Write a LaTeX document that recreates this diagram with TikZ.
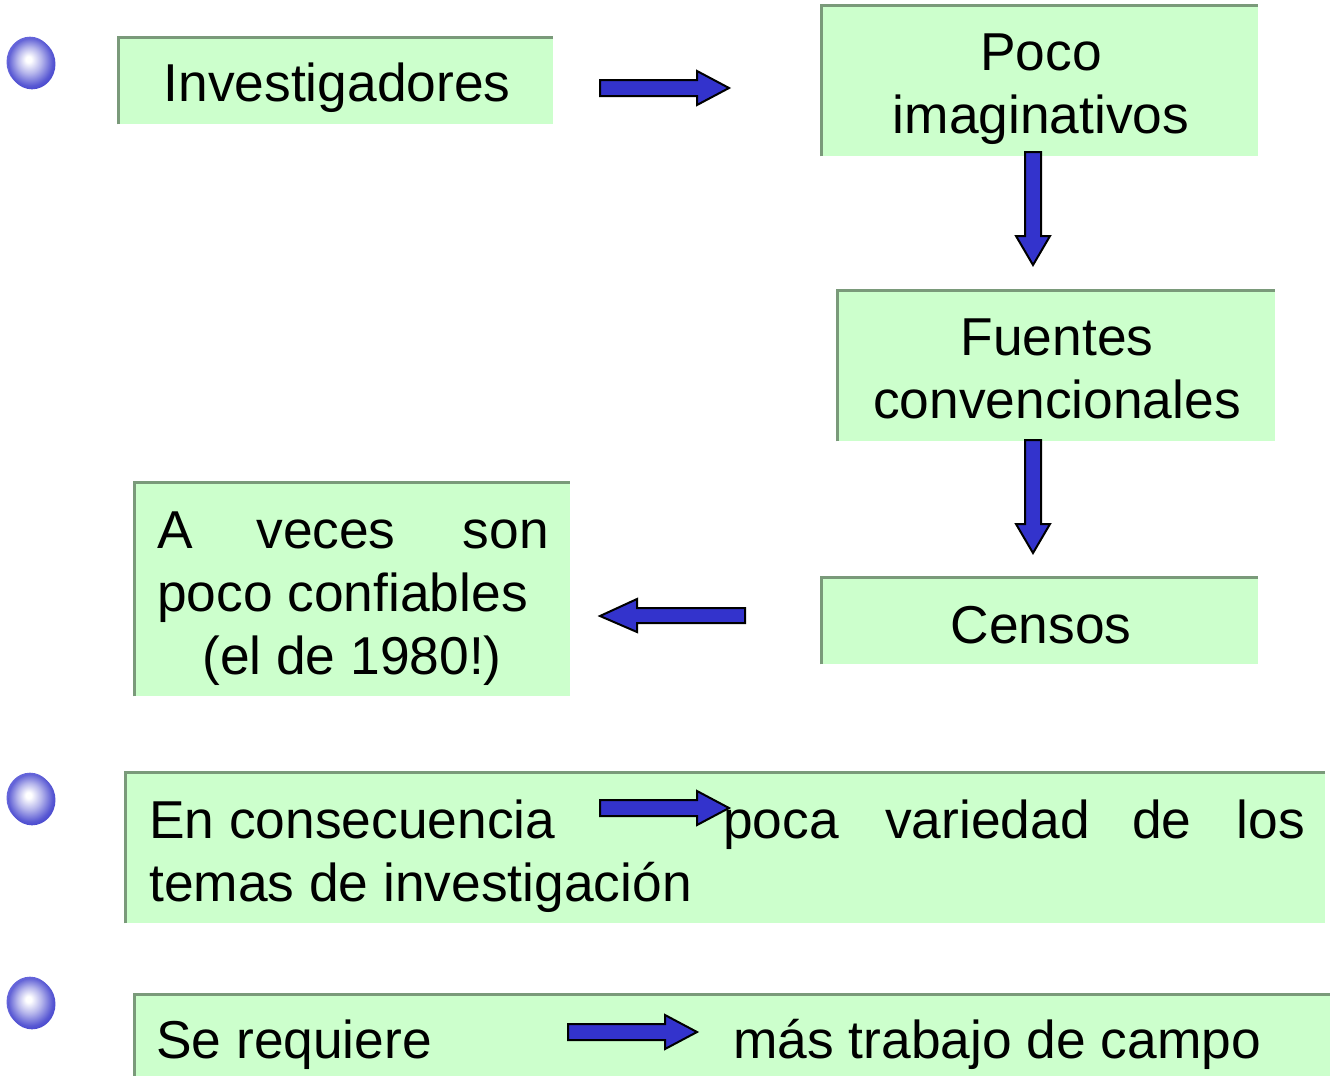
\documentclass[tikz,border=0pt]{standalone}
\usepackage{fontspec}
\setmainfont{Liberation Sans}
\definecolor{boxgreen}{HTML}{CCFFCC}
\definecolor{boxedge}{HTML}{7A9A7A}
\definecolor{arrowblue}{HTML}{3333CC}
\definecolor{bblue}{HTML}{2E2EC8}
\definecolor{bdark}{HTML}{16166A}
\definecolor{bhalo}{HTML}{6464DA}
\pgfdeclareradialshading{bulletball}{\pgfpoint{-4bp}{5bp}}{color(0bp)=(white);color(3bp)=(white);color(13bp)=(bblue!35!white);color(24bp)=(bblue!80!white);color(34bp)=(bblue);color(44bp)=(bdark);color(50bp)=(bdark)}
\tikzset{
  gbox/.style={fill=boxgreen, draw=none, inner sep=0pt},
  gedge/.style={draw=boxedge, line width=2.4pt},
  txt/.style={font=\fontsize{40}{47}\selectfont, inner sep=0pt, text=black},
  barrow/.style={fill=arrowblue, draw=black, line width=1.5pt, line join=miter},
}
\newcommand\greenbox[5]{% name, x1, y1, x2, y2 (pixels)
  \node[gbox, minimum width={(#4-#2)*0.75pt}, minimum height={(#5-#3)*0.75pt}] (#1) at ({(#2+#4)/2},{(#3+#5)/2}) {};
  \draw[gedge] (#1.south west) -- (#1.north west) -- (#1.north east);
}
\newcommand\ballet[2]{%
  \fill[bhalo] (#1-2,#2-2) ellipse [x radius=17.6pt, y radius=19pt];
  \shade[shading=bulletball] (#1,#2) ellipse [x radius=17.6pt, y radius=19pt];
}
\begin{document}
\begin{tikzpicture}[x=0.75pt,y=-0.75pt]
\useasboundingbox (0,0) rectangle (1333,1075);
\clip (0,0) rectangle (1333,1075);
\fill[white] (0,0) rectangle (1333,1075);

% bullets
\ballet{32}{64}
\ballet{32}{800}
\ballet{32}{1004}

% boxes
\greenbox{inv}{119}{38}{553}{124}
\greenbox{poco}{822}{6}{1258}{156}
\greenbox{fuen}{838}{291}{1275}{441}
\greenbox{cens}{822}{578}{1258}{664}
\greenbox{aveces}{135}{483}{570}{696}
\greenbox{conse}{126}{773}{1325}{923}
\greenbox{sereq}{135}{995}{1330}{1100}

% texts
\node[txt, anchor=base] (t1) at (337,101) {Investigadores};
\node[txt, anchor=base] (t2a) at (1041,70) {Poco};
\node[txt, anchor=base] (t2b) at (1041,133) {imaginativos};
\node[txt, anchor=base] (t3a) at (1057,355) {Fuentes};
\node[txt, anchor=base] (t3b) at (1057,418) {convencionales};
\node[txt, anchor=base] (t4) at (1041,643) {Censos};
\node[txt, anchor=base west] (t5a) at (157,548) {A};
\node[txt, anchor=base] (t5b) at (326,548) {veces};
\node[txt, anchor=base east] (t5c) at (549,548) {son};
\node[txt, anchor=base west] (t5d) at (157,611) {poco confiables};
\node[txt, anchor=base] (t5e) at (352,674) {(el de 1980!)};
\node[txt, anchor=base west] (t6a) at (149,838) {En consecuencia};
\node[txt, anchor=base west] (t6b) at (723,838) {poca};
\node[txt, anchor=base west] (t6c) at (885,838) {variedad};
\node[txt, anchor=base west] (t6d) at (1132,838) {de};
\node[txt, anchor=base east] (t6e) at (1305,838) {los};
\node[txt, anchor=base west] (t6f) at (149,901) {temas de investigación};
\node[txt, anchor=base west] (t7a) at (156,1058) {Se requiere};
\node[txt, anchor=base west] (t7b) at (733,1058) {más trabajo de campo};

% block arrows
\draw[barrow] (600,80) -- (697,80) -- (697,71) -- (729,88) -- (697,105) -- (697,96) -- (600,96) -- cycle;
\draw[barrow] (1025,152) -- (1041,152) -- (1041,236) -- (1050,236) -- (1033,265) -- (1016,236) -- (1025,236) -- cycle;
\draw[barrow] (1025,440) -- (1041,440) -- (1041,524) -- (1050,524) -- (1033,553) -- (1016,524) -- (1025,524) -- cycle;
\draw[barrow] (745,608) -- (637,608) -- (637,599) -- (600,616) -- (637,632) -- (637,623) -- (745,623) -- cycle;
\draw[barrow] (600,800) -- (697,800) -- (697,791) -- (729,808) -- (697,825) -- (697,816) -- (600,816) -- cycle;
\draw[barrow] (568,1024) -- (665,1024) -- (665,1015) -- (697,1032) -- (665,1049) -- (665,1040) -- (568,1040) -- cycle;
\end{tikzpicture}
\end{document}
